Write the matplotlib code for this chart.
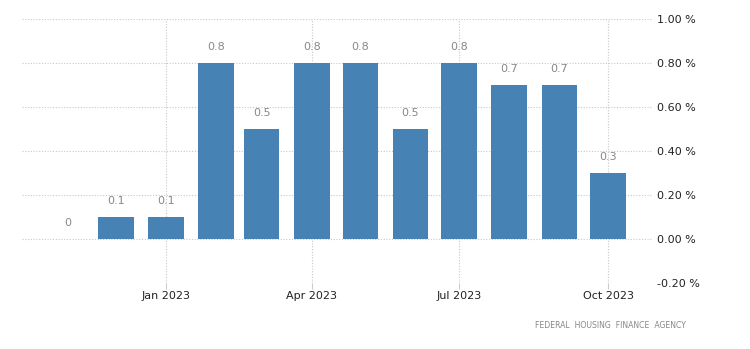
import matplotlib.pyplot as plt
import matplotlib.dates as mdates
import pandas as pd

months = ["2022-11", "2022-12", "2023-01", "2023-02", "2023-03", "2023-04",
          "2023-05", "2023-06", "2023-07", "2023-08", "2023-09", "2023-10"]
values = [0.0, 0.1, 0.1, 0.8, 0.5, 0.8, 0.8, 0.5, 0.8, 0.7, 0.7, 0.3]
yticks = [-0.2, 0.0, 0.2, 0.4, 0.6, 0.8, 1.0]
xticks = ["2023-01", "2023-04", "2023-07", "2023-10"]

dates = pd.to_datetime(months)

fig = plt.figure(figsize=(7.5, 3.49), dpi=100)
ax = fig.add_axes([0.0293, 0.189, 0.8397, 0.7566])

ax.bar(dates, values, width=22, color="#4682b4", zorder=3)
for d, v in zip(dates, values):
    ax.annotate(f"{v:g}", (d, v), xytext=(0, 8), textcoords="offset points",
                ha="center", va="bottom", fontsize=8, color="#888888")

ax.set_xlim(dates[0] - pd.Timedelta(days=28), dates[-1] + pd.Timedelta(days=27))
ax.set_ylim(-0.2, 1.0)

ax.set_yticks(yticks)
ax.set_yticklabels([f"{t:.2f} %" for t in yticks])
ax.yaxis.tick_right()
ax.set_xticks(pd.to_datetime(xticks))
ax.xaxis.set_major_formatter(mdates.DateFormatter("%b %Y"))

ax.tick_params(axis="y", length=0, pad=4, labelsize=8, labelcolor="#222222")
ax.tick_params(axis="x", length=4, color="#cccccc", pad=2, labelsize=8, labelcolor="#222222")

ax.grid(True, linestyle=(0, (1, 1.5)), color="#c8c8c8", linewidth=0.8, zorder=0)
for s in ax.spines.values():
    s.set_visible(False)

fig.text(0.915, 0.068, "FEDERAL  HOUSING  FINANCE  AGENCY", ha="right", va="center",
         fontsize=5.6, color="#888888")

fig.savefig("out.png", dpi=100)
